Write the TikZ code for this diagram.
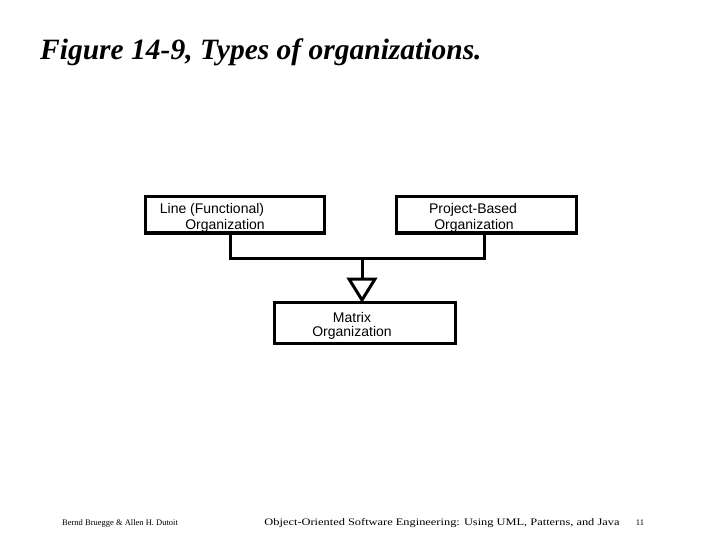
\documentclass[tikz,border=0pt]{standalone}
\usepackage{fontspec}
\usepackage{graphicx}
\setmainfont{Liberation Serif}
\setsansfont{Liberation Sans}
\begin{document}
\begin{tikzpicture}[x=1pt,y=-1pt,
  box/.style={draw,line width=3pt,inner sep=0pt},
  lbl/.style={font=\sffamily\fontsize{14}{14}\selectfont,inner sep=0pt},
  conn/.style={line width=3pt},
  foot/.style={font=\fontsize{8.5}{8.5}\selectfont,inner sep=0pt}]
\useasboundingbox (0,0) rectangle (720,540);
\node[anchor=west,font=\bfseries\itshape\fontsize{29.5}{29.5}\selectfont,inner sep=0pt] (title) at (40,52) {Figure 14-9, Types of organizations.};
\node[box,minimum width=179pt,minimum height=36pt] (line) at (234.5,215) {};
\node[box,minimum width=180pt,minimum height=36pt] (proj) at (486,215) {};
\node[box,minimum width=181pt,minimum height=41pt] (matrix) at (364.5,322.5) {};
\node[lbl] (l1) at (212,210) {Line (Functional)};
\node[lbl] (l2) at (225,226) {Organization};
\node[lbl] (p1) at (473,210) {Project-Based};
\node[lbl] (p2) at (474,226) {Organization};
\node[lbl] (m1) at (352,317) {Matrix};
\node[lbl] (m2) at (352,333) {Organization};
\coordinate (a) at (230,233);
\coordinate (b) at (484,233);
\coordinate (j) at (362,258);
\coordinate (t) at (362,279);
\coordinate (apex) at (362,300);
\draw[conn] (a) -- (230,258) -- (484,258) -- (b);
\draw[conn] (j) -- (t);
\draw[conn,line join=miter] (349,279) -- (375,279) -- (apex) -- cycle;
\node[foot,anchor=west] (f1) at (62,523) {Bernd Bruegge \& Allen H. Dutoit};
\node[foot] (f2) at (442,523) {\resizebox{355pt}{7pt}{Object-Oriented Software Engineering: Using UML, Patterns, and Java}};
\node[foot] (f3) at (640,523) {11};
\end{tikzpicture}
\end{document}
